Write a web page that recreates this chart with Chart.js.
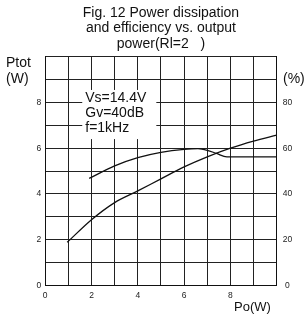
<!DOCTYPE html>
<html>
<head>
<meta charset="utf-8">
<script src="https://cdn.jsdelivr.net/npm/chart.js@4/dist/chart.umd.min.js"></script>
<style>
    html, body { margin: 0; padding: 0; background: #fff; }
    #wrap { width: 306px; height: 316px; }
</style>
</head>
<body>
<div id="wrap"><canvas id="fig12" width="306" height="316"></canvas></div>
<script>
// Values
const titleLines = ['Fig. 12 Power dissipation', 'and efficiency vs. output', 'power(Rl=2   )'];
const conditions = ['Vs=14.4V', 'Gv=40dB', 'f=1kHz'];

// Power dissipation Ptot (W) against output power Po (W)
const dissPo = [0.95, 2, 3, 4, 5, 6, 7, 8, 9, 10];
const dissW = [1.88, 2.87, 3.62, 4.13, 4.66, 5.18, 5.62, 6.0, 6.31, 6.57];

// Efficiency (%) against output power Po (W)
const effPo = [1.9, 3, 4, 5, 6, 6.6, 7, 7.4, 7.85, 10];
const effPct = [46.8, 52.3, 55.9, 58.2, 59.5, 59.8, 59.1, 57.7, 56.2, 56.2];

const leftTicks = [0, 2, 4, 6, 8];
const rightTicks = [0, 20, 40, 60, 80];
const bottomTicks = [0, 2, 4, 6, 8];

const FONT = "'Liberation Sans', Arial, sans-serif";

function toPoints(xs, ys) {
    return xs.map((x, i) => ({ x: x, y: ys[i] }));
}

// Extra texts: axis names and the white conditions box
const extraText = {
    id: 'extraText',
    afterDatasetsDraw(chart) {
        const ctx = chart.ctx;
        const x = chart.scales.x;
        const y = chart.scales.y;
        ctx.save();

        // conditions box covers the grid
        const bx = x.getPixelForValue(1.6);
        const by = y.getPixelForValue(8.55);
        const bw = x.getPixelForValue(4.8) - bx;
        const bh = y.getPixelForValue(6.4) - by;
        ctx.fillStyle = '#fff';
        ctx.fillRect(bx, by, bw, bh);

        ctx.fillStyle = '#111';
        ctx.font = '14px ' + FONT;
        ctx.textBaseline = 'middle';
        ctx.textAlign = 'left';
        conditions.forEach((t, i) => ctx.fillText(t, bx + 3, by + 8 + i * 15));

        ctx.fillText('Ptot', 6, 63);
        ctx.fillText('(W)', 6, 79);
        ctx.fillText('(%)', 283, 79);
        ctx.font = '13px ' + FONT;
        ctx.fillText('Po(W)', 234, 307);
        ctx.restore();
    }
};

new Chart(document.getElementById('fig12'), {
    type: 'line',
    data: {
        datasets: [{
            label: 'Ptot',
            data: toPoints(dissPo, dissW),
            yAxisID: 'y',
            borderColor: '#111',
            borderWidth: 1.3,
            pointRadius: 0,
            fill: false,
            cubicInterpolationMode: 'monotone'
        }, {
            label: 'Efficiency',
            data: toPoints(effPo, effPct),
            yAxisID: 'y1',
            borderColor: '#111',
            borderWidth: 1.3,
            pointRadius: 0,
            fill: false,
            cubicInterpolationMode: 'monotone'
        }]
    },
    options: {
        responsive: false,
        animation: false,
        layout: { padding: 0 },
        plugins: {
            legend: { display: false },
            tooltip: { enabled: false },
            title: {
                display: true,
                fullSize: false,
                text: titleLines,
                color: '#111',
                font: { family: FONT, size: 14, weight: 'normal', lineHeight: 1.115 },
                padding: { top: 5, bottom: 5 }
            }
        },
        scales: {
            x: {
                type: 'linear',
                min: 0,
                max: 10,
                afterFit: s => { s.height = 30.7; },
                grid: { color: '#222', lineWidth: 1, drawTicks: false },
                border: { color: '#111', width: 1 },
                ticks: {
                    stepSize: 1,
                    padding: 5,
                    maxRotation: 0,
                    color: '#222',
                    font: { family: FONT, size: 8.5 },
                    callback: v => bottomTicks.includes(v) ? String(v) : ''
                }
            },
            y: {
                position: 'left',
                min: 0,
                max: 10,
                afterFit: s => { s.width = 45.2; },
                grid: { color: '#222', lineWidth: 1, drawTicks: false },
                border: { color: '#111', width: 1 },
                ticks: {
                    stepSize: 1,
                    padding: 4,
                    color: '#222',
                    font: { family: FONT, size: 8.5 },
                    callback: v => leftTicks.includes(v) ? String(v) : ''
                }
            },
            y1: {
                position: 'right',
                min: 0,
                max: 100,
                afterFit: s => { s.width = 29.3; },
                grid: { drawOnChartArea: false, drawTicks: false },
                border: { color: '#111', width: 1 },
                ticks: {
                    stepSize: 10,
                    padding: 6,
                    crossAlign: 'center',
                    color: '#222',
                    font: { family: FONT, size: 8.5 },
                    callback: v => rightTicks.includes(v) ? String(v) : ''
                }
            }
        }
    },
    plugins: [extraText]
});
</script>
</body>
</html>
